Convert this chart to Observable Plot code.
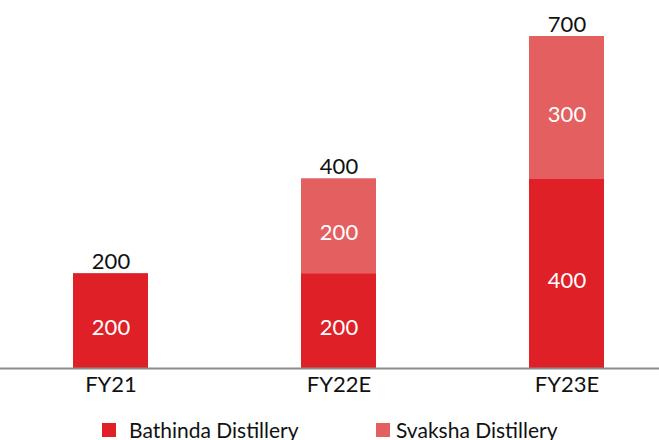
<!DOCTYPE html>
<html><head><meta charset="utf-8">
<script src="https://cdn.jsdelivr.net/npm/d3@7"></script>
<script src="https://cdn.jsdelivr.net/npm/@observablehq/plot@0.6"></script>
<style>
body{margin:0;background:#fff;overflow:hidden}
#wrap{position:relative;width:659px;height:440px;overflow:hidden}
.sw{position:absolute;width:14px;height:14px;top:423px}
.lt{position:absolute;top:419px;font-family:Lato,sans-serif;font-size:21px;color:#111;white-space:nowrap;line-height:21px}
</style></head><body><div id="wrap"></div>
<script>
const years = ["FY21", "FY22E", "FY23E"];
const bathinda = [200, 200, 400];
const svaksha = [0, 200, 300];
const totals = [200, 400, 700];
const seriesNames = ["Bathinda Distillery", "Svaksha Distillery"];
const colors = ["#E02027", "#E35F60"];

const data = [];
years.forEach((y, i) => {
  data.push({year: y, series: seriesNames[0], value: bathinda[i]});
  if (svaksha[i] > 0) data.push({year: y, series: seriesNames[1], value: svaksha[i]});
});
const totalData = years.map((y, i) => ({year: y, total: totals[i]}));

const chart = Plot.plot({
  width: 659, height: 410,
  marginLeft: 0, marginRight: 0, marginTop: 0, marginBottom: 42,
  style: {fontFamily: "Lato, sans-serif", background: "white"},
  x: {domain: years, range: [0, 677], paddingInner: 0.671, paddingOuter: 0.32, label: null},
  y: {domain: [0, 700], range: [368, 36], axis: null},
  color: {domain: seriesNames, range: colors},
  marks: [
    Plot.barY(data, {x: "year", y: "value", fill: "series"}),
    Plot.text(data, Plot.stackY({x: "year", y: "value", text: d => String(d.value), fill: "white", fontSize: 22, dy: 7})),
    Plot.text(totalData, {x: "year", y: "total", text: d => String(d.total), lineAnchor: "bottom", dy: -5, fontSize: 22, fill: "#111"}),
    Plot.ruleY([0], {stroke: "#8c8c8c", strokeWidth: 2}),
    Plot.axisX({tickSize: 0, tickPadding: 8, fontSize: 22, fill: "#111", label: null})
  ]
});
const wrap = document.getElementById("wrap");
wrap.appendChild(chart);

const legPos = [{sw: 102, tx: 129}, {sw: 376, tx: 396}];
seriesNames.forEach((name, i) => {
  const s = document.createElement("div");
  s.className = "sw"; s.style.left = legPos[i].sw + "px"; s.style.background = colors[i];
  const t = document.createElement("div");
  t.className = "lt"; t.style.left = legPos[i].tx + "px"; t.textContent = name;
  wrap.appendChild(s); wrap.appendChild(t);
});
</script></body></html>
